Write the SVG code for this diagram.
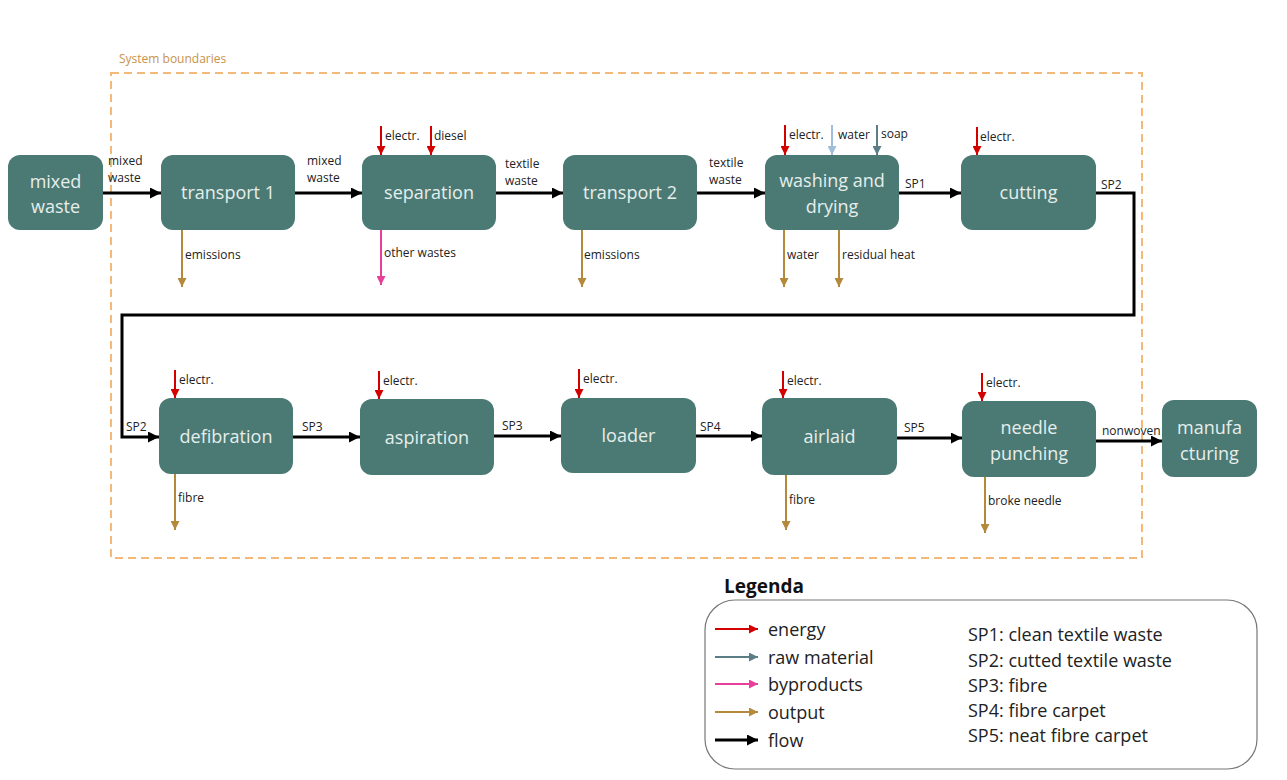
<svg xmlns="http://www.w3.org/2000/svg" width="1287" height="780" viewBox="0 0 1287 780">
<style>
.node rect{fill:#4b7a74;}
.node text{fill:#e6eeec;font-family:"Open Sans","Noto Sans",sans-serif;font-size:18px;text-anchor:middle;}
.lbl{font-family:"Open Sans","Noto Sans",sans-serif;font-size:12px;fill:#222;}
.flow{stroke:#000;stroke-width:3;fill:none;marker-end:url(#mb);}
.en{stroke:#d40000;stroke-width:2;marker-end:url(#mr);}
.out{stroke:#b5893c;stroke-width:2;marker-end:url(#mo);}
.by{stroke:#e8409a;stroke-width:2;marker-end:url(#mp);}
.wat{stroke:#a0bedc;stroke-width:2;marker-end:url(#mw);}
.raw{stroke:#5b7e86;stroke-width:2;marker-end:url(#mg);}
.leg{font-family:"Open Sans","Noto Sans",sans-serif;font-size:18px;fill:#222;}
</style>
<defs>
<marker id="mb" viewBox="0 0 10 10" refX="10" refY="5" markerWidth="11" markerHeight="11" markerUnits="userSpaceOnUse" orient="auto"><path d="M0,0 L10,5 L0,10 z" fill="#000"/></marker>
<marker id="mr" viewBox="0 0 10 10" refX="10" refY="5" markerWidth="9" markerHeight="9" markerUnits="userSpaceOnUse" orient="auto"><path d="M0,0 L10,5 L0,10 z" fill="#d40000"/></marker>
<marker id="mo" viewBox="0 0 10 10" refX="10" refY="5" markerWidth="9" markerHeight="9" markerUnits="userSpaceOnUse" orient="auto"><path d="M0,0 L10,5 L0,10 z" fill="#b5893c"/></marker>
<marker id="mp" viewBox="0 0 10 10" refX="10" refY="5" markerWidth="9" markerHeight="9" markerUnits="userSpaceOnUse" orient="auto"><path d="M0,0 L10,5 L0,10 z" fill="#e8409a"/></marker>
<marker id="mw" viewBox="0 0 10 10" refX="10" refY="5" markerWidth="9" markerHeight="9" markerUnits="userSpaceOnUse" orient="auto"><path d="M0,0 L10,5 L0,10 z" fill="#a0bedc"/></marker>
<marker id="mg" viewBox="0 0 10 10" refX="10" refY="5" markerWidth="9" markerHeight="9" markerUnits="userSpaceOnUse" orient="auto"><path d="M0,0 L10,5 L0,10 z" fill="#5b7e86"/></marker>
</defs>
<rect width="1287" height="780" fill="#fff"/>

<g id="boundary">
<rect x="111" y="73" width="1031" height="485" fill="none" stroke="#f4b878" stroke-width="2" stroke-dasharray="8 5"/>
<text x="119" y="63" font-family="'Open Sans','Noto Sans',sans-serif" font-size="12" fill="#c8924a">System boundaries</text>
</g>

<g id="n-mixed-waste" class="node"><rect x="8" y="155" width="95" height="75" rx="12"/><text x="55.5" y="188">mixed</text><text x="55.5" y="213">waste</text></g>
<g id="n-transport1" class="node"><rect x="161" y="155" width="134" height="75" rx="12"/><text x="228" y="199">transport 1</text></g>
<g id="n-separation" class="node"><rect x="362" y="155" width="134" height="75" rx="12"/><text x="429" y="199">separation</text></g>
<g id="n-transport2" class="node"><rect x="563" y="155" width="134" height="75" rx="12"/><text x="630" y="199">transport 2</text></g>
<g id="n-washing" class="node"><rect x="765" y="155" width="134" height="75" rx="12"/><text x="832" y="187">washing and</text><text x="832" y="213">drying</text></g>
<g id="n-cutting" class="node"><rect x="961" y="155" width="135" height="75" rx="12"/><text x="1028.5" y="199">cutting</text></g>
<g id="n-defibration" class="node"><rect x="159" y="398" width="134" height="76" rx="12"/><text x="226" y="443">defibration</text></g>
<g id="n-aspiration" class="node"><rect x="360" y="399" width="134" height="76" rx="12"/><text x="427" y="444">aspiration</text></g>
<g id="n-loader" class="node"><rect x="561" y="398" width="135" height="75" rx="12"/><text x="628.5" y="442">loader</text></g>
<g id="n-airlaid" class="node"><rect x="762" y="398" width="135" height="77" rx="12"/><text x="829.5" y="443">airlaid</text></g>
<g id="n-needle" class="node"><rect x="962" y="401" width="134" height="76" rx="12"/><text x="1029" y="434">needle</text><text x="1029" y="460">punching</text></g>
<g id="n-manufacturing" class="node"><rect x="1162" y="400" width="95" height="77" rx="12"/><text x="1209.5" y="434">manufa</text><text x="1209.5" y="460">cturing</text></g>

<g id="connectors">
<line class="flow" x1="103" y1="193" x2="161" y2="193"/>
<line class="flow" x1="295" y1="193" x2="362" y2="193"/>
<line class="flow" x1="496" y1="193" x2="563" y2="193"/>
<line class="flow" x1="697" y1="193" x2="765" y2="193"/>
<line class="flow" x1="899" y1="193" x2="961" y2="193"/>
<polyline class="flow" points="1096,193 1134,193 1134,315 122,315 122,437 159,437"/>
<line class="flow" x1="293" y1="437" x2="360" y2="437"/>
<line class="flow" x1="494" y1="436" x2="561" y2="436"/>
<line class="flow" x1="696" y1="436" x2="762" y2="436"/>
<line class="flow" x1="897" y1="438" x2="962" y2="438"/>
<line class="flow" x1="1096" y1="441" x2="1162" y2="441"/>

<line class="en" x1="381" y1="126" x2="381" y2="155"/>
<line class="en" x1="431" y1="126" x2="431" y2="155"/>
<line class="en" x1="785" y1="125" x2="785" y2="155"/>
<line class="wat" x1="832" y1="125" x2="832" y2="155"/>
<line class="raw" x1="877" y1="125" x2="877" y2="155"/>
<line class="en" x1="977" y1="127" x2="977" y2="155"/>
<line class="en" x1="175" y1="370" x2="175" y2="398"/>
<line class="en" x1="379" y1="371" x2="379" y2="399"/>
<line class="en" x1="579" y1="369" x2="579" y2="398"/>
<line class="en" x1="783" y1="371" x2="783" y2="398"/>
<line class="en" x1="982" y1="373" x2="982" y2="401"/>

<line class="out" x1="182" y1="230" x2="182" y2="287"/>
<line class="by" x1="381" y1="230" x2="381" y2="285"/>
<line class="out" x1="582" y1="230" x2="582" y2="287"/>
<line class="out" x1="784" y1="230" x2="784" y2="287"/>
<line class="out" x1="839" y1="230" x2="839" y2="287"/>
<line class="out" x1="175" y1="474" x2="175" y2="530"/>
<line class="out" x1="786" y1="475" x2="786" y2="530"/>
<line class="out" x1="985" y1="477" x2="985" y2="533"/>

<text class="lbl" x="108" y="165">mixed</text><text class="lbl" x="108" y="182">waste</text>
<text class="lbl" x="307" y="165">mixed</text><text class="lbl" x="307" y="182">waste</text>
<text class="lbl" x="505" y="168">textile</text><text class="lbl" x="505" y="185">waste</text>
<text class="lbl" x="709" y="167">textile</text><text class="lbl" x="709" y="184">waste</text>
<text class="lbl" x="905" y="188">SP1</text>
<text class="lbl" x="1101" y="189">SP2</text>
<text class="lbl" x="126" y="431">SP2</text>
<text class="lbl" x="302" y="431">SP3</text>
<text class="lbl" x="502" y="430">SP3</text>
<text class="lbl" x="700" y="431">SP4</text>
<text class="lbl" x="904" y="432">SP5</text>
<text class="lbl" x="1102" y="435">nonwoven</text>

<text class="lbl" x="385" y="140">electr.</text>
<text class="lbl" x="434" y="140">diesel</text>
<text class="lbl" x="789" y="139">electr.</text>
<text class="lbl" x="838" y="139">water</text>
<text class="lbl" x="881" y="138">soap</text>
<text class="lbl" x="980" y="141">electr.</text>
<text class="lbl" x="179" y="384">electr.</text>
<text class="lbl" x="383" y="385">electr.</text>
<text class="lbl" x="583" y="383">electr.</text>
<text class="lbl" x="787" y="385">electr.</text>
<text class="lbl" x="986" y="387">electr.</text>

<text class="lbl" x="185" y="259">emissions</text>
<text class="lbl" x="384" y="257">other wastes</text>
<text class="lbl" x="584" y="259">emissions</text>
<text class="lbl" x="787" y="259">water</text>
<text class="lbl" x="842" y="259">residual heat</text>
<text class="lbl" x="178" y="502">fibre</text>
<text class="lbl" x="789" y="504">fibre</text>
<text class="lbl" x="988" y="505">broke needle</text>
</g>

<g id="legend">
<text x="724" y="593" font-family="'Open Sans','Noto Sans',sans-serif" font-size="19" font-weight="bold" fill="#111">Legenda</text>
<rect x="705" y="600" width="552" height="169" rx="30" fill="none" stroke="#777" stroke-width="1.2"/>
<line class="en" x1="715" y1="629" x2="758" y2="629"/>
<line class="raw" x1="715" y1="657" x2="758" y2="657"/>
<line class="by" x1="715" y1="684" x2="758" y2="684"/>
<line class="out" x1="715" y1="712" x2="758" y2="712"/>
<line class="flow" x1="715" y1="740" x2="758" y2="740"/>
<text class="leg" x="768" y="636">energy</text>
<text class="leg" x="768" y="664">raw material</text>
<text class="leg" x="768" y="691">byproducts</text>
<text class="leg" x="768" y="719">output</text>
<text class="leg" x="768" y="747">flow</text>
<text class="leg" x="968" y="641">SP1: clean textile waste</text>
<text class="leg" x="968" y="667">SP2: cutted textile waste</text>
<text class="leg" x="968" y="692">SP3: fibre</text>
<text class="leg" x="968" y="717">SP4: fibre carpet</text>
<text class="leg" x="968" y="742">SP5: neat fibre carpet</text>
</g>
</svg>
